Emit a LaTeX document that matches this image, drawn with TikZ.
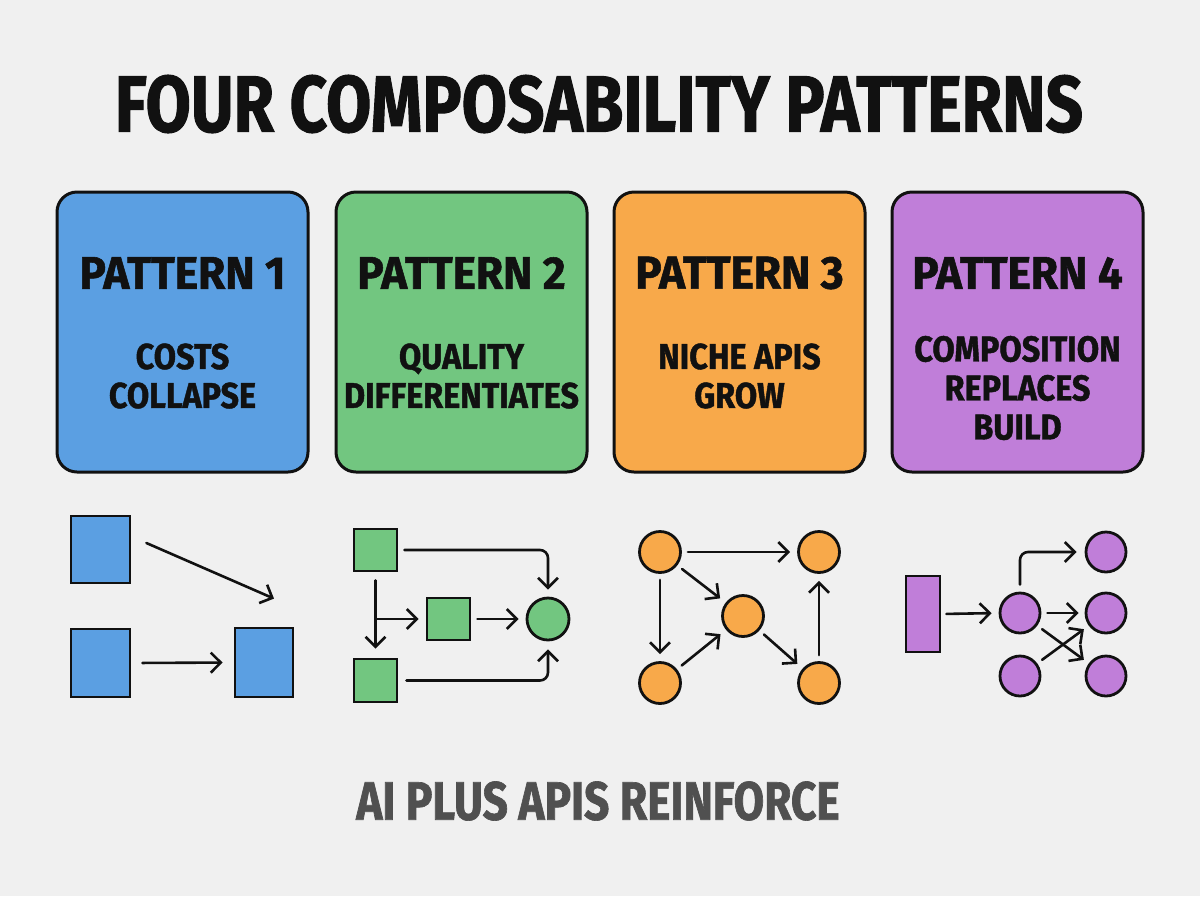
\documentclass[tikz,border=0pt]{standalone}
\usepackage{fontspec}
\setmainfont{Fira Sans}[FakeStretch=0.82, FakeBold=1.2]
\newfontfamily\cardfont{Fira Sans}[FakeStretch=0.96, FakeBold=1.2]
\newfontfamily\subfont{Fira Sans}[FakeStretch=0.9, FakeBold=1.2]
\usetikzlibrary{arrows.meta}
\definecolor{bgc}{HTML}{F0F0F0}
\definecolor{ink}{HTML}{111111}
\definecolor{cblue}{HTML}{5B9FE2}
\definecolor{cgreen}{HTML}{72C680}
\definecolor{corange}{HTML}{F8A94A}
\definecolor{cpurple}{HTML}{C07ED9}
\definecolor{cgray}{HTML}{505050}
\tikzset{
  card/.style={draw=ink, line width=1.5pt, rounded corners=10pt, minimum width=125.5pt, minimum height=140pt},
  ptitle/.style={font=\cardfont\fontsize{23}{26}\selectfont\bfseries, text=ink},
  psub/.style={font=\subfont\fontsize{18}{19.5}\selectfont\bfseries, text=ink, align=center},
  sq/.style={draw=ink, line width=1.4pt, inner sep=0pt},
  circ/.style={draw=ink, line width=1.4pt, circle, inner sep=0pt, minimum size=20.5pt},
  arr/.style={draw=ink, line width=1.3pt, -{Straight Barb[length=5pt,width=10pt,line width=1.3pt]}, line cap=round},
}
\begin{document}
\begin{tikzpicture}[x=0.5pt,y=-0.5pt]
\fill[bgc] (0,0) rectangle (1200,896);
\useasboundingbox (0,0) rectangle (1200,896);
\node[font=\fontsize{40}{44}\selectfont\bfseries, text=ink] (title) at (599,104) {FOUR COMPOSABILITY PATTERNS};
% cards
\node[card, fill=cblue] (c1) at (182.5,332) {};
\node[card, fill=cgreen] (c2) at (461.5,332) {};
\node[card, fill=corange] (c3) at (739.5,332) {};
\node[card, fill=cpurple] (c4) at (1017.5,332) {};
\node[ptitle] (t1) at (182.5,273) {PATTERN 1};
\node[ptitle] (t2) at (461.5,273) {PATTERN 2};
\node[ptitle] (t3) at (739.5,273) {PATTERN 3};
\node[ptitle] (t4) at (1017.5,273) {PATTERN 4};
\node[psub] (s1) at (182.5,376) {COSTS\\COLLAPSE};
\node[psub] (s2) at (461.5,376) {QUALITY\\DIFFERENTIATES};
\node[psub] (s3) at (739.5,376) {NICHE APIS\\GROW};
\node[psub] (s4) at (1017.5,388) {COMPOSITION\\REPLACES\\BUILD};
% pattern 1
\node[sq, fill=cblue, minimum width=29.5pt, minimum height=33.5pt] (ba) at (100.5,549.5) {};
\node[sq, fill=cblue, minimum width=29.5pt, minimum height=34pt] (bb) at (100.5,663) {};
\node[sq, fill=cblue, minimum width=29pt, minimum height=34.5pt] (bc) at (264,662.5) {};
\draw[arr] ([xshift=7.5pt,yshift=3.25pt]ba.east) -- ([xshift=5pt,yshift=14pt]bc.north);
\draw[arr, shorten <=5.5pt, shorten >=5.5pt] (bb.east) -- (bc.west);
% pattern 2
\node[sq, fill=cgreen, minimum width=21.5pt, minimum height=21pt] (ga) at (375.5,550) {};
\node[sq, fill=cgreen, minimum width=21.5pt, minimum height=21pt] (gm) at (448.5,619) {};
\node[sq, fill=cgreen, minimum width=21.5pt, minimum height=21.5pt] (gb) at (375.5,680.5) {};
\node[circ, fill=cgreen, minimum size=21pt] (gc) at (548,619) {};
\draw[arr, rounded corners=4pt, shorten <=3pt, shorten >=3.5pt] (ga.east) -| (gc.north);
\draw[arr, shorten <=4pt, shorten >=4.5pt] (ga.south) -- (gb.north);
\draw[arr, shorten >=3.5pt] (ga.south |- gm.west) -- (gm.west);
\draw[arr, shorten <=3pt, shorten >=3.5pt] (gm.east) -- (gc.west);
\draw[arr, rounded corners=4pt, shorten <=4pt, shorten >=4pt] (gb.east) -| (gc.south);
% pattern 3
\node[circ, fill=corange] (otl) at (660,552) {};
\node[circ, fill=corange] (otr) at (819,552) {};
\node[circ, fill=corange] (om) at (743,616) {};
\node[circ, fill=corange] (obl) at (660,683) {};
\node[circ, fill=corange] (obr) at (819,683) {};
\draw[arr, shorten <=3pt, shorten >=3.5pt] (otl) -- (otr);
\draw[arr, shorten <=3pt, shorten >=3.5pt] (otl) -- (om);
\draw[arr, shorten <=3pt, shorten >=3.5pt] (otl) -- (obl);
\draw[arr, shorten <=3pt, shorten >=3.5pt] (obl) -- (om);
\draw[arr, shorten <=3pt, shorten >=3.5pt] (om) -- (obr);
\draw[arr, shorten <=3pt, shorten >=3.5pt] (obr) -- (otr);
% pattern 4
\node[sq, fill=cpurple, minimum width=17pt, minimum height=38pt] (pr) at (923,614) {};
\node[circ, fill=cpurple, minimum size=20pt] (ph) at (1020,613) {};
\node[circ, fill=cpurple, minimum size=20pt] (pt) at (1106,552) {};
\node[circ, fill=cpurple, minimum size=20pt] (pm) at (1106,613) {};
\node[circ, fill=cpurple, minimum size=20pt] (pb) at (1106,676) {};
\node[circ, fill=cpurple, minimum size=20pt] (pl) at (1020,676) {};
\draw[arr, shorten <=2.5pt, shorten >=3.5pt] (pr.east) -- (ph.west);
\draw[arr, rounded corners=4pt, shorten <=3.5pt, shorten >=4pt] (ph.north) |- (pt.west);
\draw[arr, shorten <=3pt, shorten >=3pt] (ph.east) -- (pm.west);
\draw[arr, shorten <=3pt, shorten >=3pt] (ph) -- (pb);
\draw[arr, shorten <=3pt, shorten >=3pt] (pl) -- (pm);
% bottom
\node[font=\fontsize{27}{30}\selectfont\bfseries, text=cgray] (foot) at (598,801) {AI PLUS APIS REINFORCE};
\end{tikzpicture}
\end{document}
